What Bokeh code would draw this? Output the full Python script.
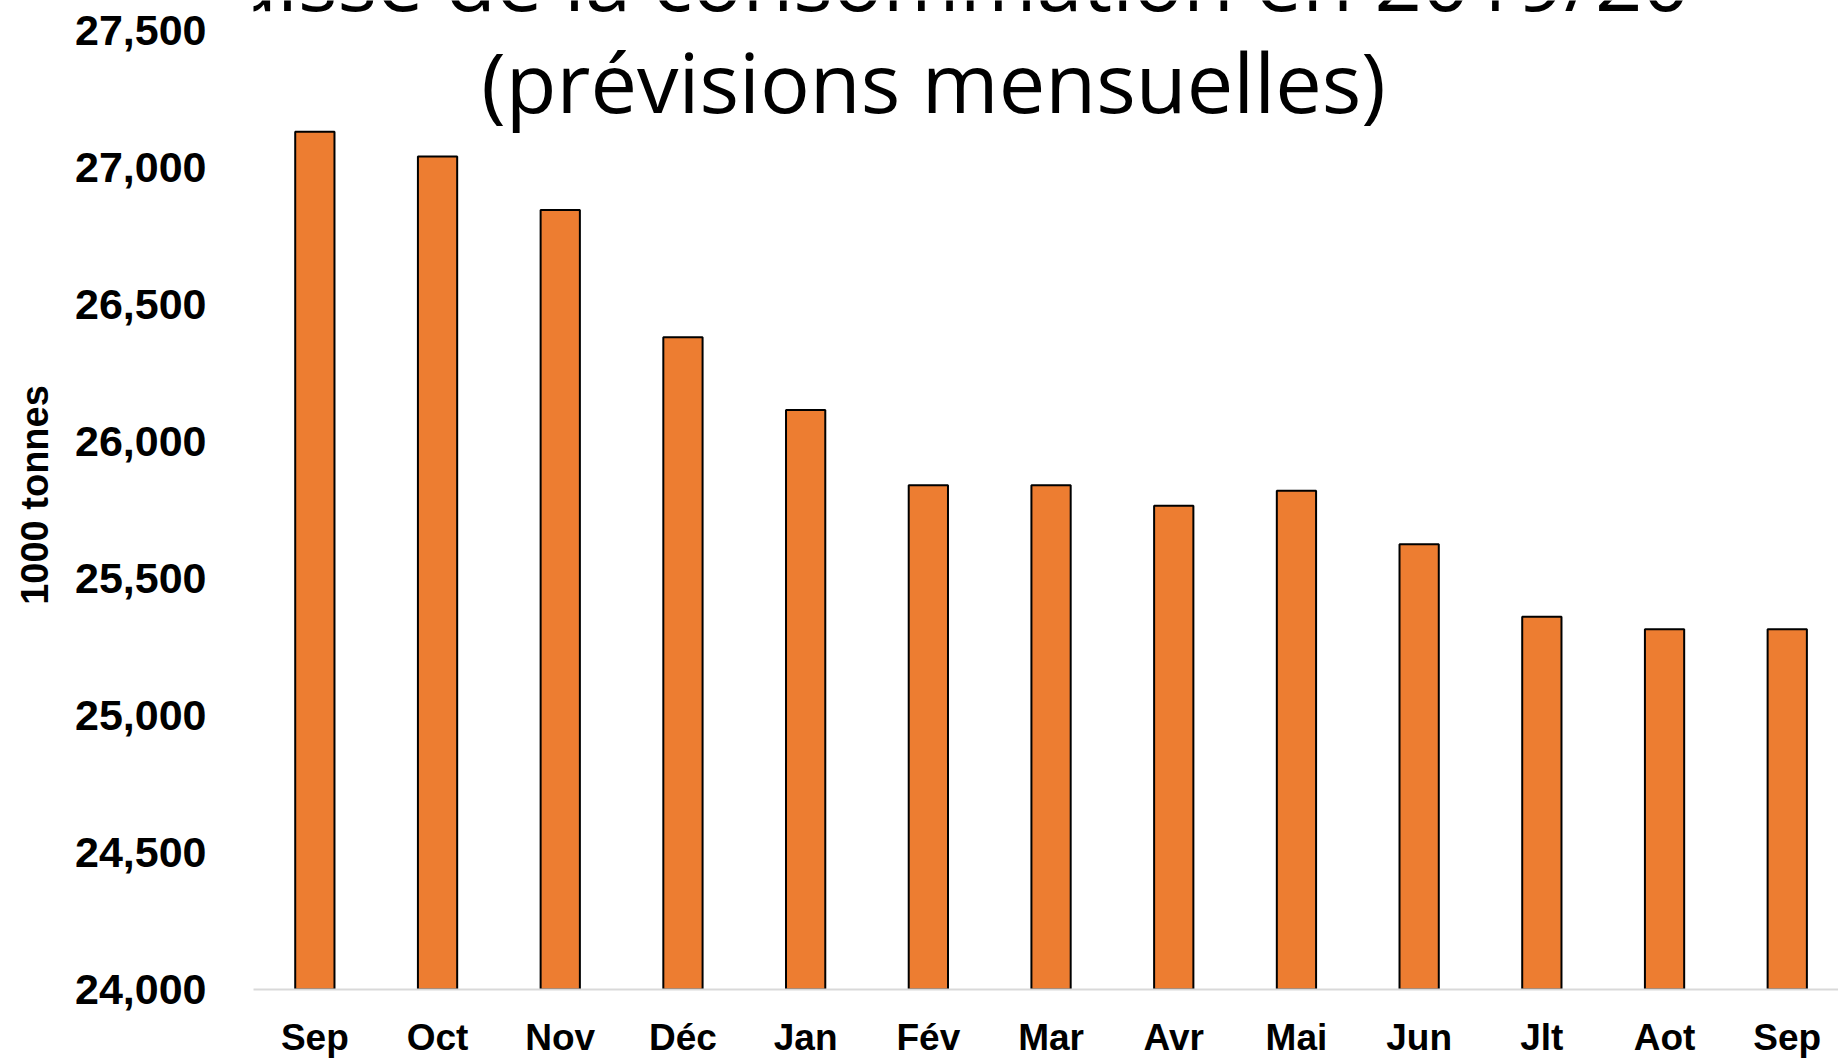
from bokeh.plotting import figure
from bokeh.models import Range1d, FixedTicker, NumeralTickFormatter, Label, ColumnDataSource
from bokeh.embed import file_html
from bokeh.resources import INLINE

# ---- data ----
months = ["Sep", "Oct", "Nov", "Déc", "Jan", "Fév", "Mar", "Avr", "Mai", "Jun", "Jlt", "Aot", "Sep"]
consumption = [27130, 27040, 26845, 26380, 26115, 25840, 25840, 25765, 25820, 25625, 25360, 25315, 25315]
y_ticks = [24000, 24500, 25000, 25500, 26000, 26500, 27000, 27500]
title_lines = ["Baisse de la consommation en 2019/20", "(prévisions mensuelles)"]
y_label = "1000 tonnes"

positions = list(range(len(months)))
source = ColumnDataSource(data=dict(x=positions, top=consumption))

W, H = 1838, 1060
LEFT, BOTTOM = 253, 70
TICK_TOP = 30                      # screen y of the top tick (27,500)
frame_w = W - LEFT
frame_h = H - BOTTOM               # frame runs to the very top of the canvas
span = frame_w / 122.7
px_per_unit = (frame_h - TICK_TOP) / (y_ticks[-1] - y_ticks[0])
y_end = y_ticks[-1] + TICK_TOP / px_per_unit

p = figure(width=W, height=H, output_backend="svg", toolbar_location=None,
           x_range=Range1d(-0.5, -0.5 + span), y_range=Range1d(y_ticks[0], y_end),
           min_border_left=LEFT, min_border_right=0, min_border_top=0, min_border_bottom=BOTTOM)
p.outline_line_color = None
p.background_fill_color = "white"
p.border_fill_color = "white"
p.xgrid.visible = False
p.ygrid.visible = False

p.vbar(x="x", top="top", bottom=y_ticks[0], width=0.32, source=source,
       fill_color="#ED7D31", line_color="black", line_width=2)

# x axis
xa = p.xaxis[0]
xa.ticker = FixedTicker(ticks=positions)
xa.major_label_overrides = {i: m for i, m in enumerate(months)}
xa.major_tick_out = 0
xa.major_tick_in = 0
xa.minor_tick_out = 0
xa.minor_tick_in = 0
xa.axis_line_color = "#d9d9d9"
xa.axis_line_width = 2
xa.major_label_standoff = 27
xa.major_label_text_font = "Liberation Sans"
xa.major_label_text_font_style = "bold"
xa.major_label_text_font_size = "37px"
xa.major_label_text_color = "black"

# y axis
ya = p.yaxis[0]
ya.ticker = FixedTicker(ticks=y_ticks)
ya.formatter = NumeralTickFormatter(format="0,0")
ya.major_tick_out = 0
ya.major_tick_in = 0
ya.minor_tick_out = 0
ya.minor_tick_in = 0
ya.axis_line_color = None
ya.major_label_standoff = 47
ya.major_label_text_font = "Liberation Sans"
ya.major_label_text_font_style = "bold"
ya.major_label_text_font_size = "43px"
ya.major_label_text_color = "black"
ya.axis_label = y_label
ya.axis_label_standoff = 16
ya.axis_label_text_font = "Liberation Sans"
ya.axis_label_text_font_style = "bold"
ya.axis_label_text_font_size = "38px"
ya.axis_label_text_color = "black"

# title (two lines, the first one partially off the top, as in the reference)
title_x = 933 - LEFT
for line, center_y in zip(title_lines, [-21, 81]):
    p.add_layout(Label(x=title_x, y=frame_h - center_y, x_units="screen", y_units="screen",
                       text=line, text_align="center", text_baseline="middle",
                       text_font="Open Sans", text_font_size="83px", text_color="black"))

open("out.html", "w").write(file_html(p, INLINE))
